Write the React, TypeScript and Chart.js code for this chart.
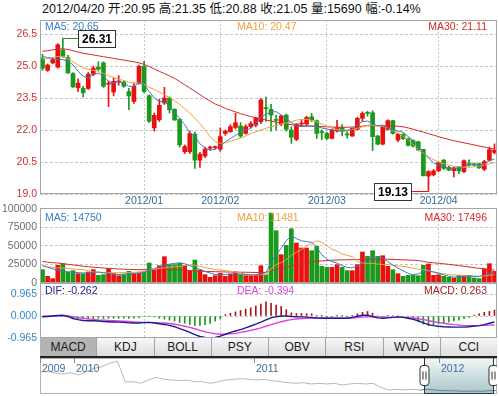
import React, { useEffect, useRef } from "react";
import { Chart, registerables } from "chart.js";

Chart.register(...registerables);

const FONT = "'Liberation Sans', Arial, 'Noto Sans CJK SC', sans-serif";
Chart.defaults.font.family = FONT;

// ---------------- data ----------------
const monthNames = ["2011/12", "2012/01", "2012/02", "2012/03", "2012/04"];
const decDays = [5, 6, 7, 8, 9, 12, 13, 14, 15, 16, 19, 20, 21, 22, 23, 26, 27, 28, 29, 30];
const janDays = [4, 5, 6, 9, 10, 11, 12, 13, 16, 17, 18, 19, 20, 30, 31];
const febDays = [1, 2, 3, 6, 7, 8, 9, 10, 13, 14, 15, 16, 17, 20, 21, 22, 23, 24, 27, 28, 29];
const marDays = [1, 2, 5, 6, 7, 8, 9, 12, 13, 14, 15, 16, 19, 20, 21, 22, 23, 26, 27, 28, 29, 30];
const aprDays = [5, 6, 9, 10, 11, 12, 13, 16, 17, 18, 19, 20];
const monthDays = [decDays, janDays, febDays, marDays, aprDays];

const opens = [
  25.35, 24.8, 25.15, 24.95, 25.75, 25.4, 24.65, 23.98, 23.95, 23.95,
  24.62, 24.95, 25.15, 24.15, 23.78, 24.25, 24.25, 23.8, 23.34, 24.2,
  24.98, 23.61, 22.1, 22.48, 23.27, 23.5, 22.97, 22.5, 20.98, 20.98,
  21.81, 20.59, 20.78, 21.15, 21.18, 21.1, 21.84, 21.92, 22.12, 22.19,
  21.84, 22.16, 22.23, 22.39, 23.05, 22.97, 22.5, 22.28, 22.7, 22.0,
  21.56, 22.28, 22.28, 22.62, 22.44, 21.9, 21.84, 21.61, 21.95, 22.12,
  21.78, 21.72, 22.03, 22.55, 22.82, 22.81, 21.72, 21.34, 22.03, 22.44,
  21.53, 21.8, 21.6, 21.5, 21.45, 21.09, 19.84, 19.9, 20.09, 20.59,
  20.25, 20.09, 20.25, 20.05, 20.4, 20.4, 20.42, 20.16, 20.59, 20.95,
];
const highs = [
  25.55, 25.1, 25.4, 26.05, 26.31, 25.5, 24.7, 24.4, 24.05, 24.7,
  25.0, 25.2, 25.2, 24.3, 24.45, 24.55, 24.3, 23.95, 24.2, 25.05,
  25.22, 23.65, 22.8, 23.45, 24.0, 23.55, 23.0, 22.52, 21.3, 21.95,
  21.9, 20.95, 21.2, 21.25, 21.25, 22.1, 22.0, 22.25, 22.78, 22.35,
  22.25, 22.4, 22.6, 23.48, 23.55, 23.2, 22.7, 22.7, 22.75, 22.15,
  22.3, 22.47, 22.65, 22.78, 22.47, 22.0, 21.9, 22.05, 22.45, 22.25,
  21.92, 22.1, 22.6, 22.85, 22.88, 22.9, 21.75, 22.2, 22.48, 22.46,
  21.85, 21.82, 21.62, 21.55, 21.48, 21.1, 20.1, 20.15, 20.5, 20.62,
  20.3, 20.25, 20.3, 20.6, 20.6, 20.45, 20.45, 20.58, 21.2, 21.35,
];
const lows = [
  24.8, 24.75, 25.1, 24.9, 25.4, 24.65, 24.0, 23.8, 23.55, 23.9,
  24.55, 24.8, 24.0, 23.1, 23.6, 24.1, 24.0, 22.95, 23.25, 24.15,
  23.75, 22.35, 21.95, 22.4, 23.2, 22.8, 22.45, 21.2, 20.9, 20.9,
  20.2, 20.25, 20.7, 21.05, 21.1, 21.0, 21.75, 21.9, 22.05, 21.65,
  21.8, 22.1, 22.15, 22.3, 22.4, 21.95, 22.0, 22.2, 21.95, 21.38,
  21.5, 22.16, 22.2, 22.4, 21.6, 21.55, 21.55, 21.58, 21.9, 21.72,
  21.62, 21.7, 22.0, 22.4, 22.65, 21.03, 21.3, 21.3, 22.0, 21.8,
  21.45, 21.55, 21.25, 21.2, 21.03, 19.84, 19.13, 19.85, 20.05, 20.15,
  20.1, 19.8, 19.95, 20.0, 20.3, 20.3, 20.2, 20.1, 20.55, 20.88,
];
const closes = [
  24.9, 25.05, 25.3, 26.0, 25.45, 24.68, 24.02, 24.2, 23.75, 24.62,
  24.9, 24.85, 24.05, 24.2, 24.28, 24.3, 24.05, 23.6, 24.05, 24.98,
  23.81, 22.41, 22.69, 23.16, 23.5, 22.95, 22.47, 21.3, 21.22, 21.84,
  20.59, 20.87, 21.11, 21.2, 21.22, 21.69, 21.95, 22.16, 22.34, 21.72,
  22.16, 22.3, 22.55, 23.41, 23.0, 22.7, 22.45, 22.66, 22.03, 21.66,
  22.28, 22.31, 22.59, 22.47, 21.84, 21.88, 21.61, 22.0, 22.12, 21.95,
  21.77, 22.08, 22.55, 22.78, 22.78, 21.69, 21.34, 22.16, 22.44, 21.84,
  21.81, 21.6, 21.28, 21.25, 21.06, 19.86, 20.05, 20.08, 20.47, 20.2,
  20.12, 20.22, 20.08, 20.56, 20.38, 20.37, 20.22, 20.52, 21.08, 21.05,
];
const ma5 = [
  25.45, 25.4, 25.35, 25.32, 25.3, 25.22, 25.06, 24.75, 24.52, 24.44,
  24.6, 24.67, 24.52, 24.28, 24.2, 24.28, 24.2, 24.05, 24.05, 24.2,
  24.12, 23.81, 23.5, 23.34, 23.34, 23.1, 22.8, 22.56, 22.25, 21.86,
  21.7, 21.35, 21.15, 21.05, 21.1, 21.25, 21.45, 21.6, 21.75, 21.9,
  22.0, 22.07, 22.3, 22.6, 22.75, 22.85, 22.86, 22.7, 22.55, 22.35,
  22.2, 22.16, 22.18, 22.2, 22.16, 22.1, 22.05, 22.0, 21.98, 21.95,
  21.97, 22.05, 22.25, 22.4, 22.42, 22.3, 22.2, 22.23, 22.1, 22.0,
  21.95, 21.9, 21.7, 21.5, 21.22, 20.95, 20.7, 20.45, 20.35, 20.3,
  20.22, 20.2, 20.22, 20.3, 20.36, 20.37, 20.35, 20.42, 20.55, 20.65,
];
const ma10 = [
  25.3, 25.35, 25.4, 25.45, 25.45, 25.35, 25.2, 25.05, 24.92, 24.85,
  24.8, 24.75, 24.65, 24.55, 24.45, 24.38, 24.32, 24.25, 24.2, 24.2,
  24.15, 24.0, 23.9, 23.78, 23.65, 23.52, 23.38, 23.2, 23.0, 22.8,
  22.55, 22.3, 22.0, 21.7, 21.45, 21.38, 21.4, 21.48, 21.55, 21.62,
  21.72, 21.84, 21.92, 22.0, 22.08, 22.15, 22.22, 22.28, 22.33, 22.4,
  22.46, 22.5, 22.5, 22.45, 22.39, 22.28, 22.18, 22.08, 22.03, 22.0,
  22.0, 22.02, 22.08, 22.15, 22.22, 22.22, 22.2, 22.17, 22.1, 21.98,
  21.85, 21.72, 21.55, 21.3, 21.06, 20.9, 20.75, 20.62, 20.5, 20.42,
  20.35, 20.3, 20.27, 20.25, 20.25, 20.28, 20.31, 20.36, 20.42, 20.47,
];
const ma30 = [
  25.69, 25.72, 25.76, 25.8, 25.81, 25.78, 25.72, 25.66, 25.6, 25.56,
  25.52, 25.48, 25.44, 25.4, 25.36, 25.32, 25.28, 25.24, 25.2, 25.15,
  25.08, 24.98, 24.86, 24.75, 24.65, 24.54, 24.42, 24.28, 24.12, 23.97,
  23.82, 23.66, 23.5, 23.36, 23.22, 23.12, 23.02, 22.93, 22.85, 22.77,
  22.7, 22.63, 22.58, 22.52, 22.47, 22.42, 22.37, 22.32, 22.28, 22.25,
  22.22, 22.2, 22.19, 22.18, 22.17, 22.16, 22.15, 22.14, 22.13, 22.13,
  22.13, 22.14, 22.16, 22.18, 22.2, 22.2, 22.2, 22.2, 22.2, 22.19,
  22.18, 22.15, 22.1, 22.04, 21.97, 21.9, 21.83, 21.76, 21.69, 21.62,
  21.56, 21.5, 21.45, 21.4, 21.35, 21.3, 21.25, 21.2, 21.15, 21.11,
];
const volumes = [
  18000, 9000, 5850, 23850, 26000, 14850, 16650, 12600, 12600, 14850,
  18000, 10350, 11250, 19350, 12600, 9900, 11250, 15750, 12150, 13500,
  14850, 27000, 17550, 23400, 35550, 24750, 24750, 27000, 23850, 16650,
  31050, 17550, 11250, 7650, 9900, 13050, 9000, 12150, 14850, 11250,
  9900, 9900, 11250, 23400, 11250, 94500, 70650, 38250, 50850, 73350,
  54000, 47250, 47250, 43650, 49500, 22500, 21150, 21150, 24750, 21150,
  16650, 16650, 24750, 41850, 36000, 43650, 36000, 36900, 22500, 18000,
  12600, 9000, 10350, 10350, 9900, 23850, 25650, 10350, 11250, 9000,
  7650, 6750, 10350, 10350, 10350, 6750, 5850, 19350, 26100, 15690,
];
const volMA5 = [
  23850, 21500, 19000, 17500, 16000, 15000, 14500, 14000, 13500, 14000,
  14500, 14850, 14000, 13000, 12000, 11500, 12000, 12500, 13000, 13500,
  14500, 17500, 19500, 21500, 24000, 25500, 26500, 27000, 26000, 23500,
  21000, 18500, 15500, 13500, 11500, 11000, 11500, 12000, 12200, 11800,
  11500, 11000, 10500, 12000, 14000, 28000, 38000, 47000, 57000, 64000,
  60000, 57000, 56000, 55000, 48000, 38000, 32000, 29000, 27000, 23500,
  21000, 20500, 23000, 27000, 31000, 33000, 33500, 33500, 29000, 24000,
  20000, 16500, 13000, 11000, 12500, 15000, 16000, 15000, 13500, 11000,
  9000, 8000, 7700, 8500, 9500, 9000, 8800, 10500, 12500, 14750,
];
const volMA10 = [
  22500, 22000, 21000, 20500, 20000, 19500, 19000, 18500, 18000, 16500,
  15000, 14000, 13500, 14000, 14000, 13800, 14000, 14200, 14500, 15000,
  16000, 17500, 18500, 19500, 20500, 21500, 22000, 22500, 23500, 24500,
  24000, 22500, 21000, 19500, 18200, 17500, 16800, 15800, 14500, 13200,
  12000, 11000, 10500, 11500, 11000, 19000, 25000, 27500, 31500, 37500,
  41500, 45500, 50000, 54000, 57000, 55000, 50500, 45500, 43000, 39000,
  37500, 35500, 29000, 27000, 26500, 26500, 25500, 25000, 24800, 24000,
  23000, 22500, 21500, 20000, 18500, 18000, 17000, 14500, 13000, 12500,
  11500, 11000, 10500, 10000, 9500, 9300, 9000, 9500, 10500, 11481,
];
const volMA30 = [
  29000, 28200, 27500, 27000, 26200, 25300, 24400, 23500, 22700, 22000,
  21400, 20800, 20300, 19800, 19400, 19000, 18700, 18400, 18200, 18000,
  18000, 18000, 18000, 18100, 18200, 18100, 17900, 17600, 17200, 16800,
  16400, 16000, 15700, 15500, 15300, 15100, 14900, 14800, 14700, 14600,
  14500, 14400, 14200, 14300, 14400, 16500, 18300, 19500, 21000, 23000,
  24500, 26000, 27300, 28400, 29300, 29900, 30400, 30800, 31100, 31300,
  31400, 31500, 31600, 31900, 32100, 32300, 32300, 32300, 32100, 31900,
  31600, 31300, 31000, 30800, 30500, 29000, 28000, 27300, 26700, 26000,
  25200, 24400, 23500, 22600, 21700, 20700, 19800, 19000, 18200, 17496,
];
const dif = [
  -0.03, -0.02, 0.0, 0.02, 0.03, -0.02, -0.11, -0.16, -0.2, -0.21,
  -0.21, -0.22, -0.24, -0.25, -0.26, -0.27, -0.28, -0.3, -0.31, -0.31,
  -0.29, -0.28, -0.31, -0.34, -0.37, -0.41, -0.47, -0.55, -0.63, -0.72,
  -0.82, -0.9, -0.94, -0.96, -0.94, -0.88, -0.8, -0.72, -0.66, -0.6,
  -0.52, -0.44, -0.36, -0.27, -0.17, -0.08, -0.03, 0.0, 0.0, -0.02,
  -0.03, -0.04, -0.05, -0.07, -0.09, -0.1, -0.1, -0.1, -0.1, -0.1,
  -0.1, -0.06, -0.01, 0.03, 0.04, -0.02, -0.08, -0.1, -0.08, -0.06,
  -0.04, -0.06, -0.1, -0.15, -0.21, -0.3, -0.38, -0.42, -0.45, -0.47,
  -0.48, -0.49, -0.49, -0.49, -0.47, -0.44, -0.42, -0.38, -0.32, -0.262,
];
const dea = [
  0.0, 0.0, 0.0, 0.01, 0.01, 0.0, -0.03, -0.07, -0.1, -0.13,
  -0.15, -0.17, -0.18, -0.2, -0.21, -0.22, -0.23, -0.24, -0.26, -0.27,
  -0.28, -0.28, -0.29, -0.3, -0.31, -0.33, -0.36, -0.4, -0.45, -0.5,
  -0.56, -0.63, -0.69, -0.74, -0.78, -0.8, -0.8, -0.78, -0.76, -0.72,
  -0.68, -0.63, -0.58, -0.52, -0.45, -0.38, -0.31, -0.25, -0.2, -0.16,
  -0.13, -0.11, -0.1, -0.09, -0.09, -0.09, -0.09, -0.09, -0.1, -0.1,
  -0.1, -0.09, -0.07, -0.05, -0.03, -0.03, -0.04, -0.05, -0.06, -0.06,
  -0.06, -0.06, -0.07, -0.09, -0.12, -0.16, -0.2, -0.25, -0.29, -0.32,
  -0.35, -0.38, -0.4, -0.42, -0.42, -0.42, -0.42, -0.41, -0.4, -0.394,
];
const macdHist = [
  -0.04, -0.03, 0.0, 0.02, 0.03, -0.04, -0.1, -0.12, -0.13, -0.12,
  -0.11, -0.1, -0.11, -0.1, -0.1, -0.1, -0.1, -0.11, -0.09, -0.07,
  -0.02, -0.01, -0.04, -0.1, -0.14, -0.18, -0.22, -0.28, -0.32, -0.38,
  -0.42, -0.42, -0.38, -0.32, -0.22, -0.12, 0.06, 0.12, 0.18, 0.24,
  0.3, 0.36, 0.44, 0.52, 0.62, 0.56, 0.48, 0.42, 0.28, 0.14,
  0.11, 0.11, 0.1, 0.1, 0.02, 0.01, -0.01, -0.02, 0.01, 0.01,
  -0.01, 0.03, 0.1, 0.16, 0.2, 0.12, 0.0, -0.02, 0.01, 0.02,
  0.02, -0.04, -0.1, -0.16, -0.26, -0.36, -0.42, -0.38, -0.34, -0.3,
  -0.26, -0.22, -0.18, -0.12, -0.06, 0.04, 0.1, 0.16, 0.2, 0.263,
];
const priceTicks = [19.0, 20.5, 22.0, 23.5, 25.0, 26.5];
const volumeTicks = [0, 25000, 50000, 75000, 100000];
const macdTicks = [-0.965, 0, 0.965];

// navigator (long history, 2009 - 2012)
const navHistory = [
  22, 23, 20.7, 20, 21.3, 19, 22.3, 25.7, 27.3, 30.7,
  33, 12, 12.3, 10.7, 14, 16.7, 14.7, 14, 13.3, 14,
  12.3, 12.3, 10.7, 12.3, 14, 14.7, 15.3, 14.7, 14, 14.7,
  13.3, 12.3, 11.3, 10.7, 11.3, 10, 10.7, 10, 10.7, 9,
  10, 10.7, 10, 10.7, 6.7, 4, 4.7, 4, 4.7, 4,
  4.7, 4, 3.3, 3.3, 3, 2.7, 3, 2.7, 3.3, 3.3,
];
const navYears = ["2009", "2010", "2011", "2012"];
const navYearAt = [0, 4.39, 27.6, 51.5];
const navWindow = [49.6, 58.5];

const tabs = ["MACD", "KDJ", "BOLL", "PSY", "OBV", "RSI", "WVAD", "CCI"];

// ---------------- derived tables ----------------
const categories: string[] = [];
const monthStartLabels: Record<number, string> = {};
monthNames.forEach((m, k) => {
  if (k > 0) monthStartLabels[categories.length] = m;
  monthDays[k].forEach((d) => categories.push(`${m}/${String(d).padStart(2, "0")}`));
});

const UP = "#ea1010";
const DOWN = "#1a9a1a";
const GRID = "#c6c6c6";
const C_MA5 = "#3b7cc4";
const C_MA10 = "#f0a040";
const C_MA30 = "#d42a2a";
const candleColors = closes.map((c, i) => (c >= opens[i] ? UP : DOWN));
const last = closes.length - 1;

const xScale = (showLabels: boolean, height: number) => ({
  type: "category",
  offset: true,
  grid: {
    offset: false,
    drawTicks: false,
    lineWidth: 1,
    color: (c: any) => (c.tick && monthStartLabels[c.tick.value] ? GRID : "rgba(0,0,0,0)"),
  },
  border: { display: false, dash: [2, 2] },
  ticks: {
    autoSkip: false,
    maxRotation: 0,
    minRotation: 0,
    padding: 1,
    color: "#2f6b9a",
    font: { size: 10.5 },
    callback: (_v: any, i: number) => (showLabels ? monthStartLabels[i] ?? "" : ""),
  },
  afterFit: (s: any) => {
    s.height = height;
    s.paddingLeft = 0;
    s.paddingRight = 0;
  },
});

const yScale = (min: number, max: number, tickVals: number[], color: string, fmt: (v: number) => string) => ({
  min,
  max,
  grid: { color: GRID, drawTicks: false, lineWidth: 1 },
  border: { display: false, dash: [3, 2] },
  ticks: { color, padding: 3, font: { size: 10.5 }, callback: (v: any) => fmt(Number(v)) },
  afterBuildTicks: (s: any) => {
    s.ticks = tickVals.map((v) => ({ value: v }));
  },
  afterFit: (s: any) => {
    s.width = 40;
    s.paddingTop = 0;
    s.paddingBottom = 0;
  },
});

const panelBorder = {
  id: "panelBorder",
  afterDraw(chart: any) {
    const { ctx, chartArea: a } = chart;
    ctx.save();
    ctx.strokeStyle = "#a6a6a6";
    ctx.lineWidth = 1;
    ctx.strokeRect(a.left + 0.5, a.top + 0.5, a.right - a.left - 1, a.bottom - a.top - 1);
    ctx.restore();
  },
};

const extremes = {
  id: "extremes",
  afterDraw(chart: any) {
    const { ctx } = chart;
    const xs = chart.scales.x;
    const ys = chart.scales.y;
    const hi = Math.max(...highs);
    const lo = Math.min(...lows);
    ctx.save();
    ctx.font = `bold 12px ${FONT}`;
    const draw = (i: number, v: number, side: number) => {
      const x = xs.getPixelForValue(i);
      const y = Math.round(ys.getPixelForValue(v)) + 0.5;
      const text = v.toFixed(2);
      const w = Math.ceil(ctx.measureText(text).width) + 6;
      const h = 17;
      const bx = side > 0 ? Math.round(x) + 15 : Math.round(x) - 17 - w;
      ctx.strokeStyle = candleColors[i];
      ctx.lineWidth = 1;
      ctx.beginPath();
      ctx.moveTo(Math.round(x) + 0.5, y);
      ctx.lineTo(side > 0 ? bx : bx + w, y);
      ctx.stroke();
      ctx.fillStyle = "#fff";
      ctx.fillRect(bx + 0.5, y - 8, w, h);
      ctx.strokeStyle = "#333";
      ctx.strokeRect(bx + 0.5, y - 8, w, h);
      ctx.fillStyle = "#000";
      ctx.textAlign = "center";
      ctx.textBaseline = "middle";
      ctx.fillText(text, bx + 0.5 + w / 2, y + 1);
    };
    draw(highs.indexOf(hi), hi, 1);
    draw(lows.indexOf(lo), lo, -1);
    ctx.restore();
  },
};

const navDecor = {
  id: "navDecor",
  beforeDatasetsDraw(chart: any) {
    const { ctx, chartArea: a } = chart;
    const xs = chart.scales.x;
    const x0 = Math.round(xs.getPixelForValue(navWindow[0]));
    const x1 = Math.round(xs.getPixelForValue(navWindow[1]));
    const g = ctx.createLinearGradient(0, a.top, 0, a.bottom);
    g.addColorStop(0, "#f2f7f7");
    g.addColorStop(1, "#a9c6c8");
    ctx.save();
    ctx.fillStyle = g;
    ctx.fillRect(x0, a.top, x1 - x0, a.bottom - a.top);
    ctx.restore();
  },
  afterDraw(chart: any) {
    const { ctx, chartArea: a } = chart;
    const xs = chart.scales.x;
    ctx.save();
    ctx.strokeStyle = "#b4b4b4";
    ctx.lineWidth = 1;
    ctx.strokeRect(a.left + 0.5, a.top + 0.5, a.right - a.left - 1, a.bottom - a.top - 1);
    ctx.font = `10.5px ${FONT}`;
    ctx.fillStyle = "#3a6f9e";
    ctx.textBaseline = "middle";
    navYears.forEach((y, k) => {
      const x = Math.round(xs.getPixelForValue(navYearAt[k])) + 0.5;
      ctx.strokeStyle = "#8a8a8a";
      ctx.beginPath();
      ctx.moveTo(x, a.top);
      ctx.lineTo(x, a.top + 5);
      ctx.stroke();
      ctx.fillText(y, x + 1.5, a.top + 11);
    });
    const x0 = Math.round(xs.getPixelForValue(navWindow[0])) + 0.5;
    const x1 = Math.round(xs.getPixelForValue(navWindow[1])) + 0.5;
    ctx.strokeStyle = "#333";
    ctx.beginPath();
    ctx.moveTo(x0, a.top);
    ctx.lineTo(x0, a.bottom - 0.5);
    ctx.lineTo(x1, a.bottom - 0.5);
    ctx.lineTo(x1, a.top);
    ctx.stroke();
    [x0, x1].forEach((x) => {
      const hx = x - 4.5;
      const hy = a.top + 7.5;
      const w = 9;
      const h = 20;
      const r = 3;
      ctx.beginPath();
      ctx.moveTo(hx + r, hy);
      ctx.lineTo(hx + w - r, hy);
      ctx.quadraticCurveTo(hx + w, hy, hx + w, hy + r);
      ctx.lineTo(hx + w, hy + h - r);
      ctx.quadraticCurveTo(hx + w, hy + h, hx + w - r, hy + h);
      ctx.lineTo(hx + r, hy + h);
      ctx.quadraticCurveTo(hx, hy + h, hx, hy + h - r);
      ctx.lineTo(hx, hy + r);
      ctx.quadraticCurveTo(hx, hy, hx + r, hy);
      ctx.closePath();
      ctx.fillStyle = "#fbfbfb";
      ctx.fill();
      ctx.strokeStyle = "#333";
      ctx.stroke();
      ctx.beginPath();
      ctx.moveTo(x - 1.5, hy + 6);
      ctx.lineTo(x - 1.5, hy + 14);
      ctx.moveTo(x + 1.5, hy + 6);
      ctx.lineTo(x + 1.5, hy + 14);
      ctx.stroke();
    });
    ctx.restore();
  },
};

const baseOptions = (padding: any) => ({
  responsive: false,
  animation: false as const,
  events: [] as any[],
  layout: { padding },
  plugins: { legend: { display: false }, tooltip: { enabled: false }, title: { display: false } },
});

const lineDs = (data: number[], color: string, width = 1) => ({
  type: "line" as const,
  data,
  borderColor: color,
  borderWidth: width,
  pointRadius: 0,
  tension: 0,
  order: 0,
});

function Legend(props: { top: number; items: [string, string][] }) {
  const { top, items } = props;
  const base = { position: "absolute" as const, top, fontSize: 10.5, lineHeight: "12px", whiteSpace: "nowrap" as const };
  return (
    <>
      <div style={{ ...base, left: 45, color: items[0][1] }}>{items[0][0]}</div>
      <div style={{ ...base, left: 237, color: items[1][1] }}>{items[1][0]}</div>
      <div style={{ ...base, right: 12, color: items[2][1] }}>{items[2][0]}</div>
    </>
  );
}

export default function App() {
  const priceRef = useRef<HTMLCanvasElement>(null);
  const volRef = useRef<HTMLCanvasElement>(null);
  const macdRef = useRef<HTMLCanvasElement>(null);
  const navRef = useRef<HTMLCanvasElement>(null);

  useEffect(() => {
    const charts: Chart[] = [];
    charts.push(
      new Chart(priceRef.current as HTMLCanvasElement, {
        type: "bar",
        data: {
          labels: categories,
          datasets: [
            lineDs(ma5, C_MA5),
            lineDs(ma10, C_MA10),
            lineDs(ma30, C_MA30),
            {
              type: "bar",
              data: opens.map((o, i) => [o, closes[i]]),
              backgroundColor: candleColors,
              barThickness: 4,
              minBarLength: 1,
              grouped: false,
              borderWidth: 0,
              order: 1,
            } as any,
            {
              type: "bar",
              data: lows.map((l, i) => [l, highs[i]]),
              backgroundColor: candleColors,
              barThickness: 1,
              grouped: false,
              borderWidth: 0,
              order: 2,
            } as any,
          ],
        },
        options: {
          ...baseOptions({ top: 6, right: 2, bottom: 0, left: 0 }),
          scales: {
            x: xScale(true, 14),
            y: yScale(19, 27.16, priceTicks, "#c83232", (v) => v.toFixed(1)),
          },
        } as any,
        plugins: [panelBorder, extremes],
      })
    );
    charts.push(
      new Chart(volRef.current as HTMLCanvasElement, {
        type: "bar",
        data: {
          labels: categories,
          datasets: [
            lineDs(volMA5, C_MA5),
            lineDs(volMA10, C_MA10),
            lineDs(volMA30, C_MA30),
            {
              type: "bar",
              data: volumes,
              backgroundColor: candleColors,
              barThickness: 4,
              borderWidth: 0,
              order: 1,
            } as any,
          ],
        },
        options: {
          ...baseOptions({ top: 8, right: 2, bottom: 8, left: 0 }),
          scales: {
            x: xScale(false, 0),
            y: yScale(0, 101350, volumeTicks, "#6e6e6e", (v) => String(Math.round(v))),
          },
        } as any,
        plugins: [panelBorder],
      })
    );
    charts.push(
      new Chart(macdRef.current as HTMLCanvasElement, {
        type: "bar",
        data: {
          labels: categories,
          datasets: [
            lineDs(dif, "#1c1c8e", 1.4),
            lineDs(dea, "#e040e0", 1.4),
            {
              type: "bar",
              data: macdHist,
              backgroundColor: macdHist.map((v) => (v >= 0 ? "#a81818" : "#1e9a1e")),
              barThickness: 1,
              borderWidth: 0,
              order: 1,
            } as any,
          ],
        },
        options: {
          ...baseOptions({ top: 8, right: 2, bottom: 7, left: 0 }),
          scales: {
            x: xScale(false, 0),
            y: yScale(-0.965, 1.4475, macdTicks, "#3a86c0", (v) => v.toFixed(3)),
          },
        } as any,
        plugins: [panelBorder],
      })
    );
    charts.push(
      new Chart(navRef.current as HTMLCanvasElement, {
        type: "line",
        data: {
          labels: navHistory.map((_, i) => String(i)),
          datasets: [
            {
              data: navHistory,
              borderColor: "#b8b8b8",
              borderWidth: 1,
              pointRadius: 0,
              tension: 0,
              segment: {
                borderColor: (c: any) => (c.p0DataIndex >= Math.floor(navWindow[0]) ? "#5d86a0" : "#b8b8b8"),
              },
            } as any,
          ],
        },
        options: {
          ...baseOptions(0),
          scales: {
            x: { display: false, offset: false },
            y: { display: false, min: 0, max: 36 },
          },
        } as any,
        plugins: [navDecor],
      })
    );
    return () => charts.forEach((c) => c.destroy());
  }, []);

  const pct = ((closes[last] - closes[last - 1]) / closes[last - 1]) * 100;
  const title =
    `${categories[last]} 开:${opens[last].toFixed(2)} 高:${highs[last].toFixed(2)} ` +
    `低:${lows[last].toFixed(2)} 收:${closes[last].toFixed(2)} 量:${volumes[last]} 幅:${pct.toFixed(2)}%`;

  return (
    <div style={{ position: "absolute", left: 0, top: 0, width: 499, height: 396, background: "#fff", fontFamily: FONT, overflow: "hidden" }}>
      <div style={{ position: "absolute", left: 42, top: 2, fontSize: 12.5, lineHeight: "14px", color: "#111", whiteSpace: "nowrap" }}>{title}</div>
      <canvas ref={priceRef} width={499} height={194} style={{ position: "absolute", left: 0, top: 14, width: 499, height: 194 }} />
      <canvas ref={volRef} width={499} height={91} style={{ position: "absolute", left: 0, top: 200, width: 499, height: 91 }} />
      <canvas ref={macdRef} width={499} height={70} style={{ position: "absolute", left: 0, top: 275, width: 499, height: 70 }} />
      <canvas ref={navRef} width={457} height={36} style={{ position: "absolute", left: 40, top: 358, width: 457, height: 36 }} />
      <Legend
        top={19.5}
        items={[
          [`MA5: ${ma5[last].toFixed(2)}`, C_MA5],
          [`MA10: ${ma10[last].toFixed(2)}`, C_MA10],
          [`MA30: ${ma30[last].toFixed(2)}`, C_MA30],
        ]}
      />
      <Legend
        top={210.5}
        items={[
          [`MA5: ${volMA5[last]}`, C_MA5],
          [`MA10: ${volMA10[last]}`, C_MA10],
          [`MA30: ${volMA30[last]}`, C_MA30],
        ]}
      />
      <Legend
        top={283.5}
        items={[
          [`DIF: ${dif[last].toFixed(3)}`, "#1c1c8e"],
          [`DEA: ${dea[last].toFixed(3)}`, "#e040e0"],
          [`MACD: ${macdHist[last].toFixed(3)}`, "#a82020"],
        ]}
      />
      <div style={{ position: "absolute", left: 40, top: 338, width: 457, height: 18, display: "flex", borderBottom: "2px solid #222" }}>
        {tabs.map((t, k) => (
          <div
            key={t}
            style={{
              flex: 1,
              textAlign: "center",
              fontSize: 12,
              lineHeight: "18px",
              color: "#1a1a1a",
              background: k === 0 ? "#b4b4b4" : "linear-gradient(#f7f7f7, #dedede)",
              borderRight: k < tabs.length - 1 ? "1px solid #a4a4a4" : "none",
            }}
          >
            {t}
          </div>
        ))}
      </div>
    </div>
  );
}
